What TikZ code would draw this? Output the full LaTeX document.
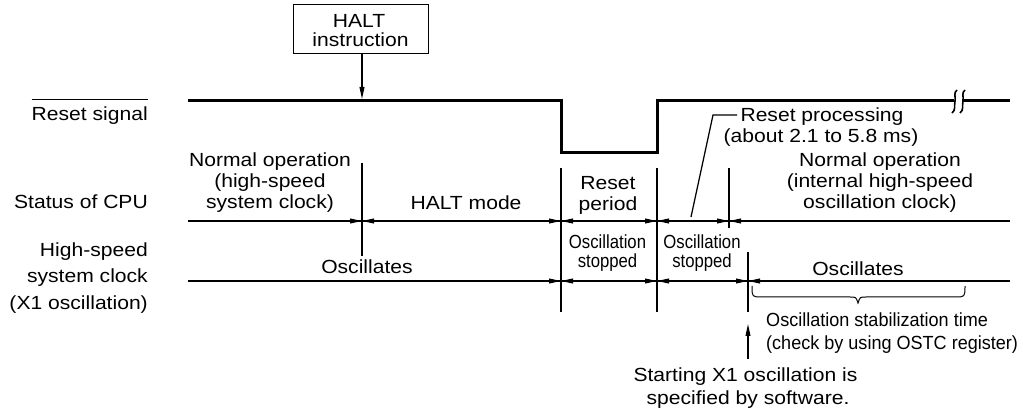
\documentclass[tikz,border=0pt]{standalone}
\usepackage{fontspec}
\setmainfont[FakeStretch=1.11]{Liberation Sans}
\newfontfamily\condA[FakeStretch=0.88]{Liberation Sans}
\newfontfamily\condB[FakeStretch=0.95]{Liberation Sans}
\usetikzlibrary{arrows.meta}
\begin{document}
\begin{tikzpicture}[x=1pt,y=-1pt,
  thin line/.style={line width=1.25pt},
  thick line/.style={line width=3pt},
  tip/.style={-{Triangle[length=12pt,width=4.8pt]}},
  txt/.style={inner sep=0pt,anchor=base,font=\fontsize{19}{21}\selectfont},
  lbl/.style={inner sep=0pt,anchor=base east,font=\fontsize{19}{21}\selectfont},
  ctxt/.style={inner sep=0pt,anchor=base,font=\condA\fontsize{19}{21}\selectfont},
  stxt/.style={inner sep=0pt,anchor=base west,font=\condB\fontsize{19}{21}\selectfont},
  box/.style={draw,line width=1pt,inner sep=0pt,minimum width=135pt,minimum height=49pt}]
\useasboundingbox (0,0) rectangle (1023,411);

% time coordinates
\coordinate (tA) at (362,0);
\coordinate (tB) at (561,0);
\coordinate (tC) at (657,0);
\coordinate (tD) at (729,0);
\coordinate (tE) at (748,0);

% left labels
\node[lbl] (rs) at (148,121) {Reset signal};
\draw[line width=1pt] (rs.west |- 0,100) -- (rs.east |- 0,100);
\node[lbl] (cpu) at (148,209) {Status of CPU};
\node[lbl] (hs1) at (148,257) {High-speed};
\node[lbl] (hs2) at (148,283) {system clock};
\node[lbl] (hs3) at (148,310) {(X1 oscillation)};

% HALT instruction box
\node[box] (halt) at (360.5,29.5) {};
\node[txt] (halt1) at (359,27.5) {HALT};
\node[txt] (halt2) at (360.5,46.5) {instruction};
\draw[thin line,tip] (halt.south -| tA) -- (362,99);

% reset signal waveform
\draw[thick line] (188,101) -- (561,101) -- (561,153) -- (657,153) -- (657,101) -- (954,101);
\draw[thick line] (962,101) -- (1010,101);
\draw[line width=1.6pt] (957,90) .. controls (953,93) and (956,97) .. (955,101)
   .. controls (954,106) and (956,110) .. (952,113);
\draw[line width=1.6pt] (965,90) .. controls (961,93) and (964,97) .. (963,101)
   .. controls (962,106) and (964,110) .. (960,113);

% reset processing label
\node[txt] (rp1) at (822,122) {Reset processing};
\node[txt] (rp2) at (821,143) {(about 2.1 to 5.8 ms)};
\draw[thin line] (691,217) -- (713,115) -- (737,115);

% status of CPU line
\draw[thin line] (188,221) -- (1010,221);
\draw[thin line] (tA |- 0,163) -- (tA |- 0,256);
\draw[thin line] (tB |- 0,168) -- (tB |- 0,312);
\draw[thin line] (tC |- 0,168) -- (tC |- 0,312);
\draw[thin line] (tD |- 0,168) -- (tD |- 0,228);
\draw[thin line] (tE |- 0,252) -- (tE |- 0,312);

\foreach \t in {tA,tB,tC,tD}{
  \draw[thin line,tip] ([xshift=-14pt]\t |- 0,221) -- (\t |- 0,221);
  \draw[thin line,tip] ([xshift=14pt]\t |- 0,221) -- (\t |- 0,221);
}
% clock line
\draw[thin line] (188,281) -- (1010,281);
\foreach \t in {tB,tC,tE}{
  \draw[thin line,tip] ([xshift=-14pt]\t |- 0,281) -- (\t |- 0,281);
  \draw[thin line,tip] ([xshift=14pt]\t |- 0,281) -- (\t |- 0,281);
}

% CPU status texts
\node[txt] (no1) at (270,167) {Normal operation};
\node[txt] (no2) at (270,188) {(high-speed};
\node[txt] (no3) at (270,209) {system clock)};
\node[txt] (hm) at (466,210) {HALT mode};
\node[txt] (rpa) at (608,190) {Reset};
\node[txt] (rpb) at (608,211) {period};
\node[txt] (ni1) at (880,167) {Normal operation};
\node[txt] (ni2) at (880,188) {(internal high-speed};
\node[txt] (ni3) at (880,209) {oscillation clock)};

% clock texts
\node[txt] (osc1) at (367,274) {Oscillates};
\node[ctxt] (os1a) at (607.5,249) {Oscillation};
\node[ctxt] (os1b) at (607.5,268) {stopped};
\node[ctxt] (os2a) at (702,249) {Oscillation};
\node[ctxt] (os2b) at (702,268) {stopped};
\node[txt] (osc2) at (858,276) {Oscillates};

% brace
\draw[line width=1pt] (752,286) .. controls (752,297) .. (762,297) -- (850,297)
  .. controls (856,297) .. (858,303) .. controls (860,297) .. (866,297) -- (955,297)
  .. controls (965,297) .. (965,286);
\node[stxt] (st1) at (766,327) {Oscillation stabilization time};
\node[stxt] (st2) at (766,350) {(check by using OSTC register)};

% start arrow
\coordinate (sa) at (748,359);
\draw[thin line,tip] (sa) -- (tE |- 0,324);
\node[txt] (sx1) at (745.5,382) {Starting X1 oscillation is};
\node[txt] (sx2) at (748,405) {specified by software.};
\end{tikzpicture}
\end{document}
